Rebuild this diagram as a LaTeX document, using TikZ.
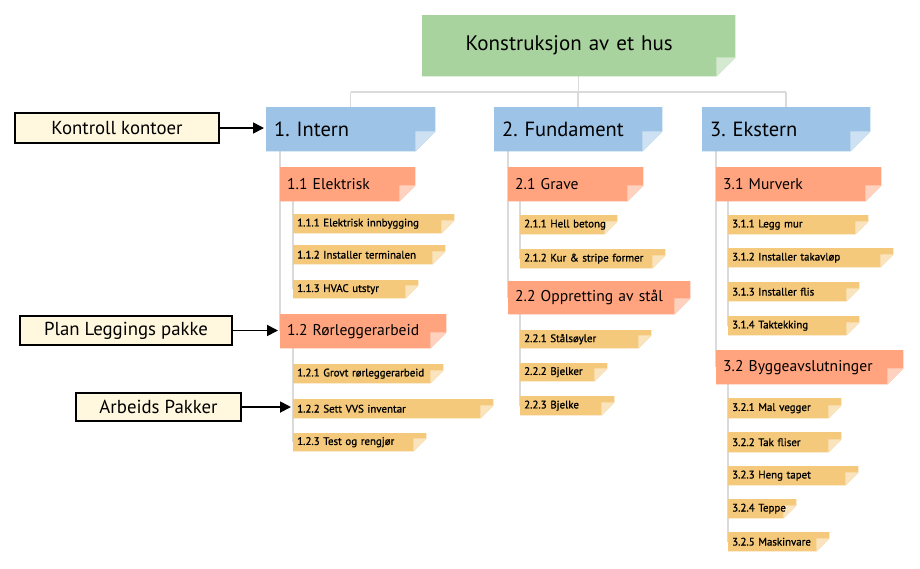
\documentclass[tikz,border=0pt]{standalone}
\usepackage{fontspec}
\setmainfont{PT Sans}
\newfontfamily\workfont[FakeBold=1.0]{PT Sans}
\frenchspacing
\usetikzlibrary{arrows.meta,backgrounds}

\newlength{\du}
\setlength{\du}{1pt}

\definecolor{rootgreen}{HTML}{A9D39E}
\definecolor{phaseblue}{HTML}{9DC3E6}
\definecolor{tasksalmon}{HTML}{FFA47F}
\definecolor{workyellow}{HTML}{F4C97C}
\definecolor{noteyellow}{HTML}{FFF8DE}
\definecolor{linkgray}{HTML}{DADADA}

\tikzset{
  wbs/.style={anchor=north west, inner xsep=0pt, inner ysep=0pt, align=left, text=black},
  rootbox/.style={wbs, align=center, execute at end node={\hspace*{19\du}}, font=\fontsize{21}{25}\selectfont},
  phasebox/.style={wbs, execute at begin node={\hspace*{8\du}}, font=\fontsize{20.5}{24}\selectfont},
  taskbox/.style={wbs, execute at begin node={\hspace*{7\du}}, font=\fontsize{15.6}{18}\selectfont},
  workbox/.style={wbs, execute at begin node={\hspace*{4\du}}, font=\workfont\fontsize{10.9}{12}\selectfont},
  notebox/.style={draw=black, line width=1.5\du, fill=noteyellow, inner sep=0pt, font=\fontsize{18.8}{22}\selectfont},
  link/.style={draw=linkgray, line width=1.5\du},
  pointer/.style={draw=black, line width=1.8pt, -{Triangle[length=11pt,width=11pt]}, shorten >=2pt},
}

% box from (x0,y0) to (x1,y1), pixel units, y down
\newcommand{\wbsbox}[7]{%
  \pgfmathsetmacro{\wbsw}{#5-#3}%
  \pgfmathsetmacro{\wbsh}{#6-#4}%
  \node[#1, text width=\wbsw\du, minimum height=\wbsh\du] (#2) at (#3,#4) {#7};}

% dog-ear fill behind a named box
\newcommand{\dogear}[3]{%
  \fill[#2] (#1.north west) -- (#1.north east) -- ([yshift=#3\du]#1.south east)
    -- ([xshift=-#3\du]#1.south east) -- (#1.south west) -- cycle;
  \fill[#2!50!white] ([xshift=-#3\du]#1.south east) -- ([xshift=-#3\du,yshift=#3\du]#1.south east)
    -- ([yshift=#3\du]#1.south east) -- cycle;}

\begin{document}
\begin{tikzpicture}[x=\du, y=-\du]
\useasboundingbox (0,0) rectangle (920,568);

% top
\wbsbox{rootbox}{root}{422}{15}{735}{76}{Konstruksjon av et hus}

% phases
\wbsbox{phasebox}{intern}{266}{107}{435}{151}{1. Intern}
\wbsbox{phasebox}{fundament}{494}{107}{662}{151}{2. Fundament}
\wbsbox{phasebox}{ekstern}{702}{107}{870}{151}{3. Ekstern}

% 1. Intern
\wbsbox{taskbox}{el11}{280}{167}{415}{201}{1.1 Elektrisk}
\wbsbox{workbox}{el111}{293}{214}{454}{233}{1.1.1 Elektrisk innbygging}
\wbsbox{workbox}{el112}{293}{245}{445}{264}{1.1.2 Installer terminalen}
\wbsbox{workbox}{el113}{293}{280}{418}{298}{1.1.3 HVAC utstyr}
\wbsbox{taskbox}{el12}{280}{314}{446}{348}{1.2 Rørleggerarbeid}
\wbsbox{workbox}{el121}{293}{364}{443}{383}{1.2.1 Grovt rørleggerarbeid}
\wbsbox{workbox}{el122}{293}{399}{493}{418}{1.2.2 Sett VVS inventar}
\wbsbox{workbox}{el123}{293}{433}{426}{451}{1.2.3 Test og rengjør}

% 2. Fundament
\wbsbox{taskbox}{fu21}{508}{167}{643}{201}{2.1 Grave}
\wbsbox{workbox}{fu211}{520}{215}{617}{234}{2.1.1 Hell betong}
\wbsbox{workbox}{fu212}{520}{249}{665}{268}{2.1.2 Kur \& stripe former}
\wbsbox{taskbox}{fu22}{508}{281}{690}{314}{2.2 Oppretting av stål}
\wbsbox{workbox}{fu221}{520}{330}{651}{348}{2.2.1 Stålsøyler}
\wbsbox{workbox}{fu222}{520}{363}{607}{381}{2.2.2 Bjelker}
\wbsbox{workbox}{fu223}{520}{396}{614}{415}{2.2.3 Bjelke}

% 3. Ekstern
\wbsbox{taskbox}{ek31}{716}{167}{881}{201}{3.1 Murverk}
\wbsbox{workbox}{ek311}{728}{215}{868}{234}{3.1.1 Legg mur}
\wbsbox{workbox}{ek312}{728}{248}{893}{267}{3.1.2 Installer takavløp}
\wbsbox{workbox}{ek313}{728}{282}{859}{301}{3.1.3 Installer flis}
\wbsbox{workbox}{ek314}{728}{316}{859}{335}{3.1.4 Taktekking}
\wbsbox{taskbox}{ek32}{716}{350}{903}{384}{3.2 Byggeavslutninger}
\wbsbox{workbox}{ek321}{728}{398}{841}{418}{3.2.1 Mal vegger}
\wbsbox{workbox}{ek322}{728}{432}{841}{452}{3.2.2 Tak fliser}
\wbsbox{workbox}{ek323}{728}{466}{858}{485}{3.2.3 Heng tapet}
\wbsbox{workbox}{ek324}{728}{499}{796}{518}{3.2.4 Teppe}
\wbsbox{workbox}{ek325}{728}{532}{829}{551}{3.2.5 Maskinvare}

% side notes
\node[notebox, minimum width=204\du, minimum height=30\du] (kontroll) at (117,128) {Kontroll kontoer};
\node[notebox, minimum width=212\du, minimum height=29\du] (plan) at (126,330.5) {Plan Leggings pakke};
\node[notebox, minimum width=165\du, minimum height=28\du] (arbeids) at (158.5,407) {Arbeids Pakker};

\draw[pointer] (kontroll.east) -- (kontroll.east -| intern.west);
\draw[pointer] (plan.east) -- (plan.east -| el12.west);
\draw[pointer] (arbeids.east) -- (arbeids.east -| el122.west);

\begin{scope}[on background layer]
  \coordinate (bus) at (0,92);
  \draw[link] (root.south) -- (root.south |- bus);
  \draw[link] (intern.north |- bus) -- (ekstern.north |- bus);
  \foreach \n in {intern,fundament,ekstern}
    \draw[link] (\n.north |- bus) -- (\n.north);
  \draw[link] (intern.south -| el11.west) -- (el12.west);
  \draw[link] (el11.south -| el111.west) -- (el113.west);
  \draw[link] (el12.south -| el121.west) -- (el123.west);
  \draw[link] (fundament.south -| fu21.west) -- (fu22.west);
  \draw[link] (fu21.south -| fu211.west) -- (fu212.west);
  \draw[link] (fu22.south -| fu221.west) -- (fu223.west);
  \draw[link] (ekstern.south -| ek31.west) -- (ek32.west);
  \draw[link] (ek31.south -| ek311.west) -- (ek314.west);
  \draw[link] (ek32.south -| ek321.west) -- (ek325.west);

  \dogear{root}{rootgreen}{19}
  \foreach \n in {intern,fundament,ekstern}
    {\dogear{\n}{phaseblue}{20}}
  \foreach \n in {el11,el12,fu21,fu22,ek31,ek32}
    {\dogear{\n}{tasksalmon}{16}}
  \foreach \n in {el111,el112,el113,el121,el122,el123,fu211,fu212,fu221,fu222,fu223,
                  ek311,ek312,ek313,ek314,ek321,ek322,ek323,ek324,ek325}
    {\dogear{\n}{workyellow}{13}}
\end{scope}
\end{tikzpicture}
\end{document}
